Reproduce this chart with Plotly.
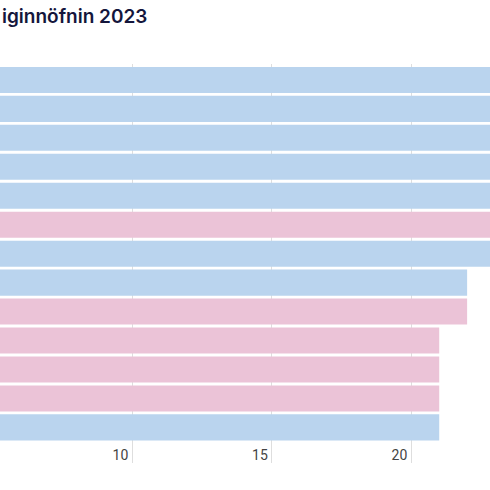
import plotly.graph_objects as go

names = ["Aron", "Jón", "Alexander", "Emil", "Guðmundur", "Emilía", "Óliver",
         "Kári", "Sara", "Embla", "Saga", "Hekla", "Jökull"]
counts = [31, 29, 27, 26, 25, 24, 23, 22, 22, 21, 21, 21, 21]
sex = ["kk", "kk", "kk", "kk", "kk", "kvk", "kk", "kk", "kvk", "kvk", "kvk", "kvk", "kk"]
tick_vals = [10, 15, 20]
title_text = "iginnöfnin 2023"

colour_map = {"kk": "#bad4ee", "kvk": "#ebc3d7"}
colours = [colour_map[s] for s in sex]
positions = list(range(len(names)))

fig = go.Figure(go.Bar(
    x=counts, y=positions, orientation="h",
    marker=dict(color=colours, line=dict(width=0)),
    hovertext=names, hoverinfo="text+x",
    width=0.9,
))

fig.update_layout(
    width=490, height=490,
    margin=dict(l=0, r=0, t=64, b=27),
    paper_bgcolor="white", plot_bgcolor="white",
    showlegend=False,
    bargap=0.1,
    font=dict(family="Roboto", color="#444"),
    xaxis=dict(
        range=[5.258, 22.82],
        tickvals=tick_vals,
        ticklabelposition="inside left",
        ticklabelshift=-4,
        ticklabelstandoff=-6,
        showgrid=True, gridcolor="#dedede", gridwidth=1,
        zeroline=False, showline=False, ticks="",
        tickfont=dict(family="Roboto", size=14, color="#444"),
    ),
    yaxis=dict(
        range=[13.23, -0.55],
        tickvals=positions, ticktext=names,
        showticklabels=False,
        showgrid=False, zeroline=False, showline=False,
    ),
    annotations=[dict(
        text=title_text,
        xref="paper", yref="paper",
        x=0, y=1 + (64 - 16) / 399,
        xanchor="left", yanchor="middle",
        showarrow=False,
        font=dict(family="Inter", size=19, color="#14163c", weight=600),
    )],
)

fig.write_html("out.html", config={"displayModeBar": False},
               post_script="document.body.style.margin='0';document.body.style.overflow='hidden';")
